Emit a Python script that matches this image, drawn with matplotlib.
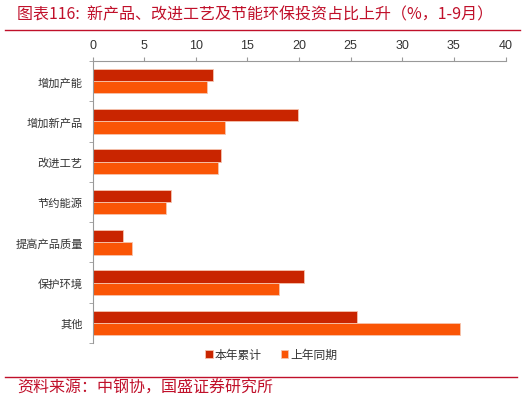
import matplotlib
matplotlib.use("Agg")
import matplotlib.pyplot as plt
import numpy as np

plt.rcParams['font.family'] = ['Noto Sans CJK SC', 'DejaVu Sans']

categories = ['增加产能', '增加新产品', '改进工艺', '节约能源', '提高产品质量', '保护环境', '其他']
this_year = [11.7, 19.9, 12.4, 7.6, 3.0, 20.5, 25.6]
last_year = [11.1, 12.8, 12.2, 7.1, 3.8, 18.1, 35.6]
series_names = ['本年累计', '上年同期']

c_dark = '#C92500'
c_orange = '#FA5506'
c_title = '#C0102A'

fig = plt.figure(figsize=(5.32, 4.02), dpi=100)
ax = fig.add_axes([0.1739, 0.1443, 0.7763, 0.7015])

y = np.arange(len(categories))
h = 0.305
ax.barh(y - h / 2, this_year, height=h, color=c_dark, edgecolor='#F6C4AE',
        linewidth=0.6, label=series_names[0])
ax.barh(y + h / 2, last_year, height=h, color=c_orange, edgecolor='#F6C4AE',
        linewidth=0.6, label=series_names[1])

ax.set_xlim(0, 40)
ax.set_ylim(len(categories) - 0.5, -0.5)
ax.set_xticks(range(0, 41, 5))
ax.xaxis.tick_top()
ax.tick_params(axis='x', length=3, color='#999999', labelsize=9, labelcolor='#333333', pad=4)
for lab in ax.get_xticklabels():
    lab.set_family(['Liberation Sans', 'DejaVu Sans'])

ax.set_yticks(y)
ax.set_yticklabels(categories, fontsize=8.1, color='#333333')
ax.set_yticks(np.arange(-0.5, len(categories), 1), minor=True)
ax.tick_params(axis='y', which='major', length=0, pad=7)
ax.tick_params(axis='y', which='minor', length=3, color='#999999')

for s in ['right', 'bottom']:
    ax.spines[s].set_visible(False)
for s in ['top', 'left']:
    ax.spines[s].set_color('#999999')
    ax.spines[s].set_linewidth(0.8)

leg = fig.legend(loc='center', bbox_to_anchor=(0.51, 0.115), ncol=2, frameon=False,
                 fontsize=8.5, handlelength=0.6, handleheight=0.6, handletextpad=0.2,
                 columnspacing=1.6)
for t in leg.get_texts():
    t.set_color('#333333')

fig.text(0.032, 0.962, '图表116:  新产品、改进工艺及节能环保投资占比上升（%，1-9月）',
         fontsize=11.5, color=c_title, va='center', ha='left', style='italic')
fig.add_artist(plt.Line2D([0.01, 0.978], [0.923, 0.923], color=c_title, linewidth=1.0))
fig.add_artist(plt.Line2D([0.01, 0.972], [0.06, 0.06], color=c_title, linewidth=1.0))
fig.text(0.032, 0.035, '资料来源：中钢协，国盛证券研究所',
         fontsize=11.5, color=c_title, va='center', ha='left', style='italic')

fig.savefig('out.png', dpi=100)
